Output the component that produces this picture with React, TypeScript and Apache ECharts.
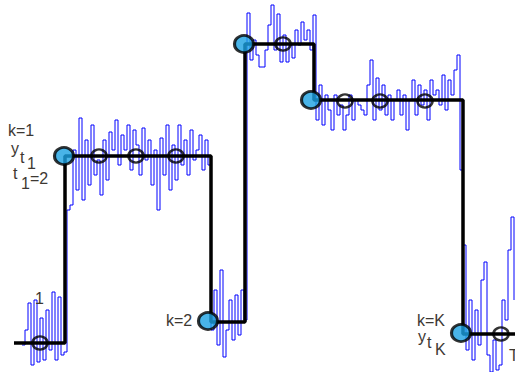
import React, { useEffect, useRef } from "react";
import * as echarts from "echarts";

// Step function: boundaries (x) and level (y) of each segment
const boundaries = [14, 65, 211, 245, 314, 463, 515];
const levels = [343, 156, 322, 44, 100, 334];

// Change points (blue filled markers)
const changePoints: [number, number][] = [
  [64, 156],
  [208, 321],
  [244, 44],
  [311, 100],
  [461, 333],
];

// Other sample markers (open circles)
const openPoints: [number, number][] = [
  [40, 343],
  [99, 156],
  [136, 156],
  [176, 156],
  [283, 44],
  [345, 101],
  [380, 101],
  [425, 101],
  [501, 334],
];

// Noisy observed signal
const noiseStartX = 22;
const noiseStepX = 3;
const noiseY = [
  // segment 1
  345, 330, 303, 365, 300, 362, 318, 360, 310, 350, 292, 360, 297, 355, 352,
  // segment 2
  210, 205, 150, 190, 118, 200, 140, 185, 125, 175,
  160, 195, 140, 180, 132, 150, 120, 165, 135, 150,
  125, 170, 130, 145, 175, 128, 160, 140, 185, 150,
  210, 138, 175, 125, 190, 145, 180, 125, 165, 140,
  175, 130, 160, 150, 135, 170, 140, 165,
  // segment 3
  330, 290, 345, 270, 357, 330, 300, 340, 295, 335, 290, 320,
  // segment 4
  13, 60, 40, 55, 67, 67, 50, 25, 5, 50, 14, 62, 35, 62, 45, 58, 30, 45, 22, 40, 30, 50, 15,
  // segment 5
  120, 85, 125, 95, 110, 130, 95, 115, 105, 130,
  115, 95, 120, 100, 105, 110, 115, 85, 60, 120,
  78, 110, 85, 115, 95, 120, 100, 90, 115, 95,
  130, 100, 80, 115, 85, 105, 90, 120, 80, 95,
  90, 105, 75, 110, 80, 95, 70, 55, 170,
  // segment 6
  245, 350, 300, 360, 310, 345, 280, 262, 355, 372, 340, 370, 365, 300, 320, 250, 217, 300,
];

// Annotation labels: [text, x, y]
const labels: [string, number, number][] = [
  ["k=1", 8, 130],
  ["y", 11, 148],
  ["t", 20, 157],
  ["1", 27, 163],
  ["t", 13, 173],
  ["1", 21, 183],
  ["=2", 30, 178],
  ["1", 35, 298],
  ["k=2", 166, 320],
  ["k=K", 417, 320],
  ["y", 418, 336],
  ["t", 427, 342],
  ["K", 435, 349],
  ["T", 509, 355],
];

export default function App() {
  const ref = useRef<HTMLDivElement>(null);

  useEffect(() => {
    document.body.style.margin = "0";
    if (!ref.current) return;
    const chart = echarts.init(ref.current, null, { renderer: "svg" });

    const stepData: [number, number][] = [];
    for (let i = 0; i < levels.length; i++) {
      stepData.push([boundaries[i], levels[i]]);
      stepData.push([boundaries[i + 1], levels[i]]);
    }
    const noiseData = noiseY.map((y, i) => [noiseStartX + i * noiseStepX, y]);

    chart.setOption({
      animation: false,
      backgroundColor: "#ffffff",
      grid: { left: 0, right: 0, top: 0, bottom: 0 },
      xAxis: { type: "value", min: 0, max: 515, show: false },
      yAxis: { type: "value", min: 0, max: 372, inverse: true, show: false },
      series: [
        {
          type: "line",
          data: noiseData,
          step: "end",
          symbol: "none",
          lineStyle: { color: "#0000ff", width: 1 },
          z: 1,
        },
        {
          type: "line",
          data: stepData,
          symbol: "none",
          lineStyle: { color: "#000000", width: 3.5 },
          z: 2,
        },
        {
          type: "scatter",
          data: openPoints,
          symbol: "circle",
          symbolSize: [15, 13],
          itemStyle: { color: "rgba(255,255,255,0)", borderColor: "#000", borderWidth: 2.5 },
          z: 3,
        },
        {
          type: "scatter",
          data: changePoints,
          symbol: "circle",
          symbolSize: [19, 17],
          itemStyle: { color: "#1ba1e2", borderColor: "#000", borderWidth: 3 },
          z: 4,
        },
      ],
      graphic: labels.map(([text, x, y]) => ({
        type: "text",
        x,
        y,
        z: 10,
        style: {
          text,
          font: '16px "Liberation Sans", sans-serif',
          fill: "#3d3833",
          textAlign: "left",
          textVerticalAlign: "middle",
        },
      })),
    });

    return () => chart.dispose();
  }, []);

  return <div ref={ref} style={{ width: 515, height: 372 }} />;
}
